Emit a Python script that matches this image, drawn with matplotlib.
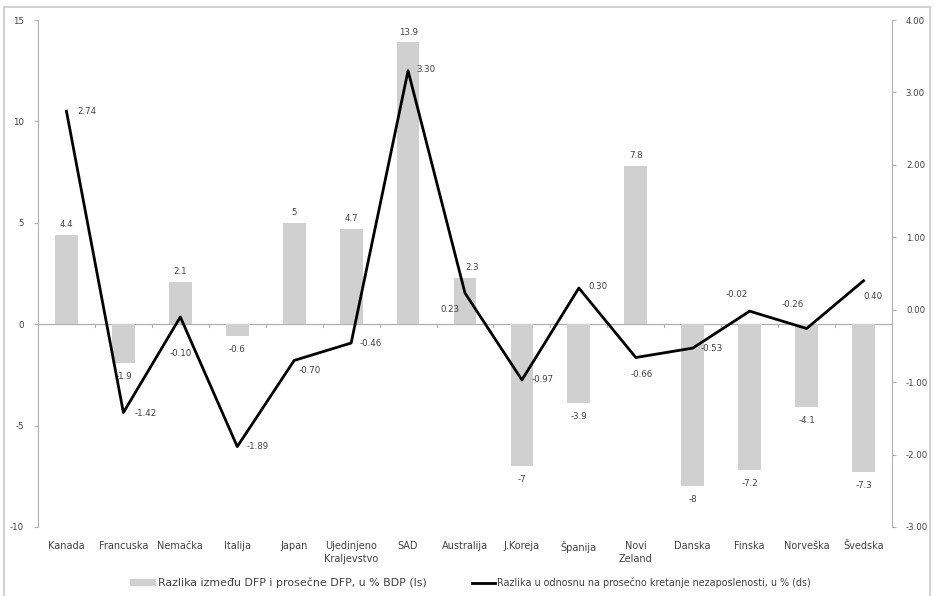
import numpy as np
import matplotlib.pyplot as plt
from matplotlib.patches import Rectangle, Patch
from matplotlib.lines import Line2D

plt.rcParams['axes.unicode_minus'] = False

# Country labels and the two series
countries = ['Kanada', 'Francuska', 'Nemačka', 'Italija', 'Japan',
             'Ujedinjeno\nKraljevstvo', 'SAD', 'Australija', 'J.Koreja',
             'Španija', 'Novi\nZeland', 'Danska', 'Finska', 'Norveška',
             'Švedska']
dfp_diff = [4.4, -1.9, 2.1, -0.6, 5, 4.7, 13.9, 2.3, -7, -3.9, 7.8, -8,
            -7.2, -4.1, -7.3]
dfp_labels = ['4.4', '-1.9', '2.1', '-0.6', '5', '4.7', '13.9', '2.3', '-7',
              '-3.9', '7.8', '-8', '-7.2', '-4.1', '-7.3']
unemp_diff = [2.74, -1.42, -0.10, -1.89, -0.70, -0.46, 3.30, 0.23, -0.97,
              0.30, -0.66, -0.53, -0.02, -0.26, 0.40]

# label offsets (points) for the line values
line_offsets = [(8, 0, 'left'), (8, -1, 'left'), (0, -26, 'center'),
                (7, 0, 'left'), (3, -7, 'left'), (6, 0, 'left'),
                (6, 1, 'left'), (-11, -12, 'center'), (7, 0, 'left'),
                (7, 1, 'left'), (4, -12, 'center'), (6, 0, 'left'),
                (-9, 12, 'center'), (-10, 17, 'center'), (7, -11, 'center')]
# bar label nudges (points)
bar_dx = [0, 0, 0, 0, 0, 0, 0, 5, 0, 0, 0, 0, 0, 0, 0]

BAR_COLOR = '#d0d0d0'
AXIS_COLOR = '#b0b0b0'
TXT = '#404040'
FS = 6.2

fig = plt.figure(figsize=(9.34, 5.96), dpi=100)
ax = fig.add_axes([38 / 934, 1 - 527 / 596, 854 / 934, 507 / 596])
ax2 = ax.twinx()

x = np.arange(len(countries))
ax.bar(x, dfp_diff, width=0.4, color=BAR_COLOR, zorder=2)
ax.axhline(0, color=AXIS_COLOR, lw=0.9, zorder=1)
ax.set_xlim(-0.5, len(countries) - 0.5)
ax.set_ylim(-10, 15)
ax.set_yticks([-10, -5, 0, 5, 10, 15])

for xi, v, lab, dx in zip(x, dfp_diff, dfp_labels, bar_dx):
    off = 4 if v >= 0 else -13
    ax.annotate(lab, (xi, v), xytext=(dx, off), textcoords='offset points',
                ha='center', va='bottom', fontsize=FS, color=TXT, zorder=4)

# small tick marks on the zero line between categories
for b in np.arange(0.5, len(countries) - 0.5, 1):
    ax.plot([b, b], [0, -0.15], color=AXIS_COLOR, lw=0.8, zorder=1)

ax2.plot(x, unemp_diff, color='black', lw=2, zorder=5)
ax2.set_ylim(-3, 4)
ax2.set_yticks(np.arange(-3, 5, 1))
ax2.set_yticklabels([f'{t:.2f}' for t in np.arange(-3, 5, 1)])
for xi, v, (dx, dy, ha) in zip(x, unemp_diff, line_offsets):
    ax2.annotate(f'{v:.2f}', (xi, v), xytext=(dx, dy),
                 textcoords='offset points', ha=ha, va='center',
                 fontsize=FS, color=TXT)

for a in (ax, ax2):
    for s in a.spines.values():
        s.set_visible(False)
    a.tick_params(axis='y', labelsize=FS, colors=TXT, length=3, width=0.8,
                  color=AXIS_COLOR, pad=7)
ax.spines['left'].set_visible(True)
ax.spines['left'].set_color(AXIS_COLOR)
ax2.spines['right'].set_visible(True)
ax2.spines['right'].set_color(AXIS_COLOR)

ax.set_xticks(x)
ax.set_xticklabels(countries, fontsize=7, color=TXT, linespacing=1.35,
                   va='top')
ax.tick_params(axis='x', length=0, pad=10)
ax.set_zorder(ax2.get_zorder() - 1)
ax2.set_zorder(1)
ax.patch.set_visible(False)

# two legend entries, each with its own text size
leg_y = 1 - 583 / 596
leg1 = fig.legend([Patch(color=BAR_COLOR)],
                  ['Razlika između DFP i prosečne DFP, u % BDP (ls)'],
                  loc='center left', bbox_to_anchor=(130 / 934, leg_y),
                  frameon=False, fontsize=7.9, labelcolor=TXT,
                  handlelength=2.3, handleheight=0.5, handletextpad=0.25,
                  borderpad=0, borderaxespad=0)
fig.legend([Line2D([0], [0], color='black', lw=2)],
           ['Razlika u odnosnu na prosečno kretanje nezaposlenosti, u % (ds)'],
           loc='center left', bbox_to_anchor=(472 / 934, leg_y),
           frameon=False, fontsize=6.9, labelcolor=TXT,
           handlelength=2.4, handletextpad=0.25,
           borderpad=0, borderaxespad=0)

# outer frame around the chart
fig.patches.append(Rectangle((4 / 934, -0.01), 926 / 934, 1 - 7 / 596 + 0.01,
                             transform=fig.transFigure, fill=False,
                             edgecolor='#c8c8c8', lw=1.2))

fig.savefig('out.png', dpi=100)
